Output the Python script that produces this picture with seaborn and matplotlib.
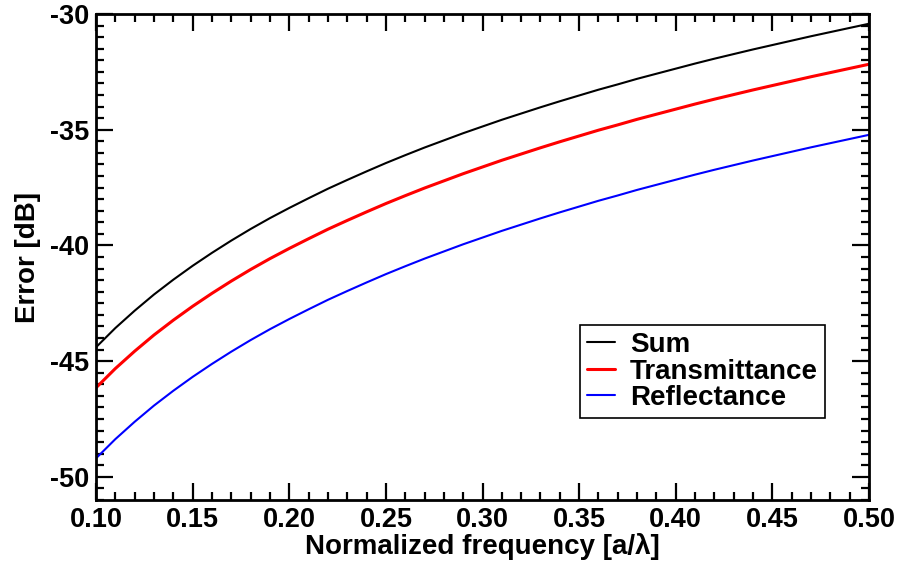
import matplotlib

matplotlib.use("Agg")
import matplotlib.pyplot as plt
import pandas as pd
import seaborn as sns
from matplotlib.ticker import FormatStrFormatter, MultipleLocator

# values
freq = [0.10, 0.11, 0.12, 0.13, 0.14, 0.15, 0.16, 0.17, 0.18, 0.19, 0.20,
        0.21, 0.22, 0.23, 0.24, 0.25, 0.26, 0.27, 0.28, 0.29, 0.30,
        0.31, 0.32, 0.33, 0.34, 0.35, 0.36, 0.37, 0.38, 0.39, 0.40,
        0.41, 0.42, 0.43, 0.44, 0.45, 0.46, 0.47, 0.48, 0.49, 0.50]
err_sum = [-44.40, -43.57, -42.82, -42.12, -41.48, -40.88, -40.32, -39.79, -39.29, -38.82, -38.38,
           -37.96, -37.55, -37.17, -36.80, -36.44, -36.10, -35.77, -35.46, -35.15, -34.86,
           -34.57, -34.30, -34.03, -33.77, -33.52, -33.27, -33.04, -32.80, -32.58, -32.36,
           -32.14, -31.93, -31.73, -31.53, -31.34, -31.15, -30.96, -30.78, -30.60, -30.42]
err_trans = [-46.15, -45.32, -44.57, -43.87, -43.23, -42.63, -42.07, -41.54, -41.04, -40.57, -40.13,
             -39.71, -39.30, -38.92, -38.55, -38.19, -37.85, -37.52, -37.21, -36.90, -36.61,
             -36.32, -36.05, -35.78, -35.52, -35.27, -35.02, -34.79, -34.55, -34.33, -34.11,
             -33.89, -33.68, -33.48, -33.28, -33.09, -32.90, -32.71, -32.53, -32.35, -32.17]
err_refl = [-49.20, -48.37, -47.62, -46.92, -46.28, -45.68, -45.12, -44.59, -44.09, -43.62, -43.18,
            -42.76, -42.35, -41.97, -41.60, -41.24, -40.90, -40.57, -40.26, -39.95, -39.66,
            -39.37, -39.10, -38.83, -38.57, -38.32, -38.07, -37.84, -37.60, -37.38, -37.16,
            -36.94, -36.73, -36.53, -36.33, -36.14, -35.95, -35.76, -35.58, -35.40, -35.22]
series = ["Sum", "Transmittance", "Reflectance"]
colors = ["black", "red", "blue"]

df = pd.concat([
    pd.DataFrame({"freq": freq, "err": vals, "series": name})
    for name, vals in zip(series, [err_sum, err_trans, err_refl])
])

sns.set_style("ticks")
plt.rcParams["font.family"] = ["Liberation Sans", "DejaVu Sans"]
plt.rcParams["font.weight"] = "bold"
plt.rcParams["axes.unicode_minus"] = False
for key in ["text.color", "axes.labelcolor", "xtick.color", "ytick.color", "axes.edgecolor"]:
    plt.rcParams[key] = "black"

fig = plt.figure(figsize=(9.04, 5.70), dpi=100)
ax = fig.add_axes([0.1062, 0.1228, 0.8551, 0.8526])

sns.lineplot(data=df, x="freq", y="err", hue="series", hue_order=series,
             palette=colors, ax=ax, linewidth=1.5, legend=False)
ax.lines[1].set_linewidth(2.2)

for line, name in zip(ax.lines, series):
    line.set_label(name)

ax.set_xlim(0.10, 0.50)
ax.set_ylim(-51, -30)
ax.xaxis.set_major_locator(MultipleLocator(0.05))
ax.xaxis.set_minor_locator(MultipleLocator(0.01))
ax.yaxis.set_major_locator(MultipleLocator(5))
ax.yaxis.set_minor_locator(MultipleLocator(0.5))
ax.xaxis.set_major_formatter(FormatStrFormatter("%.2f"))
ax.yaxis.set_major_formatter(FormatStrFormatter("%d"))
ax.tick_params(which="both", direction="in", top=True, right=True,
               width=1.6, labelsize=19.5, pad=5)
ax.tick_params(which="major", length=12)
ax.tick_params(which="minor", length=6)
for sp in ax.spines.values():
    sp.set_linewidth(2)

ax.set_xlabel("Normalized frequency [a/λ]", fontsize=20, fontweight="bold", labelpad=0)
ax.set_ylabel("Error [dB]", fontsize=20, fontweight="bold", labelpad=6)

leg = ax.legend(loc="upper left", bbox_to_anchor=(0.626, 0.36), fontsize=20,
                handlelength=1.0, labelspacing=0.02, borderpad=0.25,
                handletextpad=0.55, borderaxespad=0, fancybox=False, framealpha=1)
leg.get_frame().set_edgecolor("black")
leg.get_frame().set_linewidth(1.2)
for t in leg.get_texts():
    t.set_fontweight("bold")

plt.savefig("out.png", dpi=100)
plt.close()
